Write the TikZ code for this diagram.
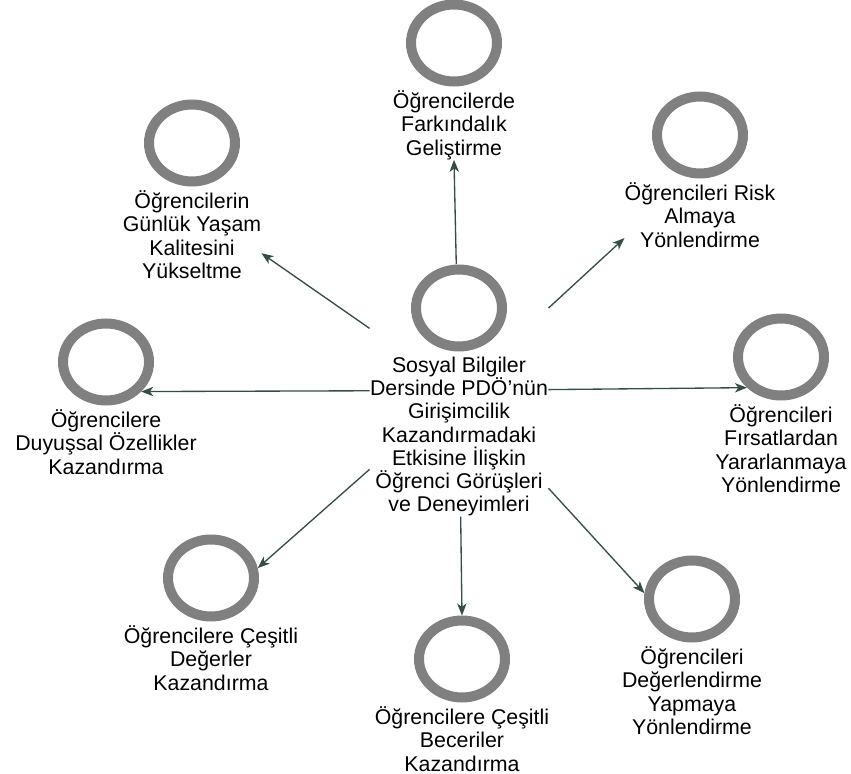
\documentclass[tikz,border=0pt]{standalone}
\usepackage{fontspec}
\setmainfont{Liberation Sans}
\usetikzlibrary{positioning,fit,shapes.geometric,arrows.meta}
\definecolor{ringgray}{RGB}{128,128,128}
\definecolor{linkgreen}{RGB}{50,78,70}

\begin{document}
\begin{tikzpicture}[x=0.75pt, y=-0.75pt,
    ring/.style={ellipse, draw=ringgray, fill=white, line width=7.5pt,
        minimum width=64.5pt, minimum height=57.75pt, inner sep=0pt},
    ringtext/.style={align=center, inner sep=0pt, text=black,
        font={\fontsize{16pt}{17.4pt}\selectfont\lineskiplimit=-6pt}},
    link/.style={draw=linkgreen, line width=1pt,
        -{Stealth[length=9pt, width=7pt, inset=2.5pt]}}]

    \useasboundingbox (0,0) rectangle (851,774);

    % ring centres
    \coordinate (Pfark)   at (454,43);
    \coordinate (Pyasam)  at (192,143);
    \coordinate (Prisk)   at (700,135);
    \coordinate (Pduyu)   at (106,362);
    \coordinate (Phub)    at (459,308);
    \coordinate (Pfirsat) at (781,357);
    \coordinate (Pdeger)  at (211,578);
    \coordinate (Pbeceri) at (462,659);
    \coordinate (Pyapma)  at (692,599);

    % centre concept
    \node[ring] (hubRing) at (Phub) {};
    \node[ringtext, below=4pt of hubRing] (hubText)
        {Sosyal Bilgiler\\Dersinde PDÖ'nün\\Girişimcilik\\Kazandırmadaki\\Etkisine İlişkin\\Öğrenci Görüşleri\\ve Deneyimleri};
    \node[fit=(hubRing)(hubText), inner sep=0pt] (hub) {};

    % outer concepts
    \node[ring] (farkRing) at (Pfark) {};
    \node[ringtext, below=3pt of farkRing] (farkText)
        {Öğrencilerde\\Farkındalık\\Geliştirme};

    \node[ring] (yasamRing) at (Pyasam) {};
    \node[ringtext, below=3pt of yasamRing] (yasamText)
        {Öğrencilerin\\Günlük Yaşam\\Kalitesini\\Yükseltme};

    \node[ring] (riskRing) at (Prisk) {};
    \node[ringtext, below=3pt of riskRing] (riskText)
        {Öğrencileri Risk\\Almaya\\Yönlendirme};

    \node[ring] (duyuRing) at (Pduyu) {};
    \node[ringtext, below=3pt of duyuRing] (duyuText)
        {Öğrencilere\\Duyuşsal Özellikler\\Kazandırma};

    \node[ring] (firsatRing) at (Pfirsat) {};
    \node[ringtext, below=3pt of firsatRing] (firsatText)
        {Öğrencileri\\Fırsatlardan\\Yararlanmaya\\Yönlendirme};

    \node[ring] (degerRing) at (Pdeger) {};
    \node[ringtext, below=3pt of degerRing] (degerText)
        {Öğrencilere Çeşitli\\Değerler\\Kazandırma};

    \node[ring] (beceriRing) at (Pbeceri) {};
    \node[ringtext, below=3pt of beceriRing] (beceriText)
        {Öğrencilere Çeşitli\\Beceriler\\Kazandırma};

    \node[ring] (yapmaRing) at (Pyapma) {};
    \node[ringtext, below=3pt of yapmaRing] (yapmaText)
        {Öğrencileri\\Değerlendirme\\Yapmaya\\Yönlendirme};

    % connectors
    \draw[link] (hub) -- (farkText.south);
    \draw[link] (hub) -- (yasamText.-15);
    \draw[link] (hub) -- (riskText.197);
    \draw[link] (hub) -- (duyuRing.-40);
    \draw[link] (hub) -- (firsatRing.222);
    \draw[link] (hub) -- (degerRing.12);
    \draw[link] (hub) -- (beceriRing.north);
    \draw[link] (hub) -- (yapmaRing.173);

\end{tikzpicture}
\end{document}
